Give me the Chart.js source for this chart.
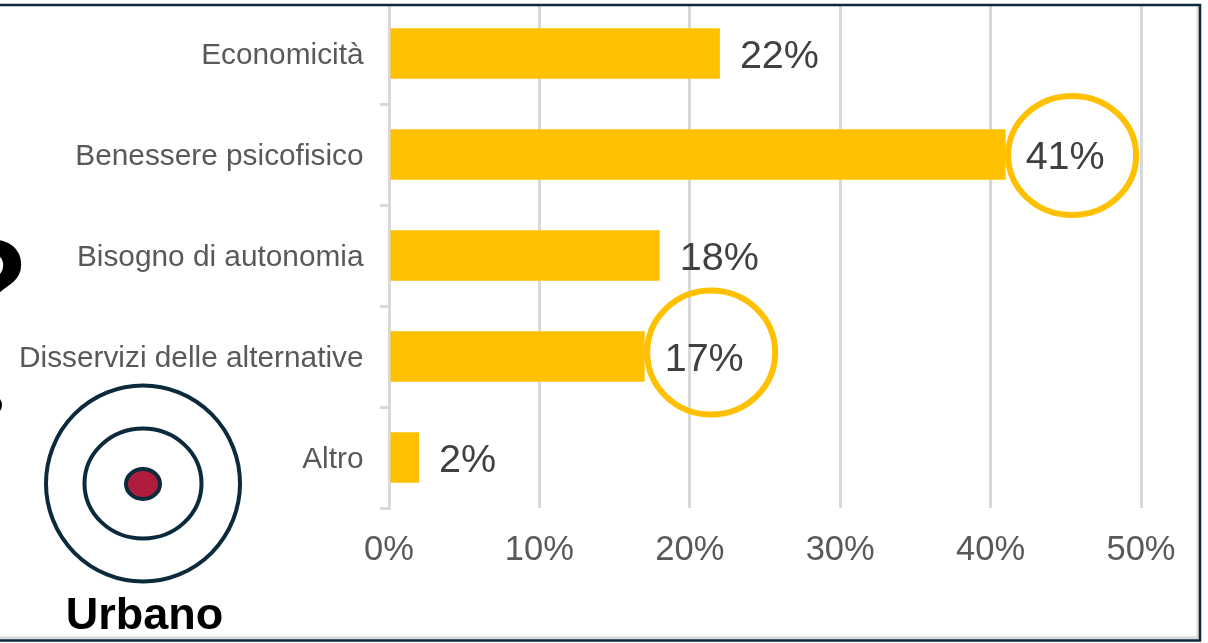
<!DOCTYPE html>
<html>
<head>
<meta charset="utf-8">
<style>
  html, body { margin: 0; padding: 0; background: #fff; }
  canvas { display: block; }
</style>
<script src="https://cdn.jsdelivr.net/npm/chart.js@4"></script>
</head>
<body>
<canvas id="myChart" width="1208" height="643"></canvas>
<script>
const categories = ["Economicità", "Benessere psicofisico", "Bisogno di autonomia", "Disservizi delle alternative", "Altro"];
const values = [22, 41, 18, 17, 2];
const circled = ["Benessere psicofisico", "Disservizi delle alternative"];
const xTicks = [0, 10, 20, 30, 40, 50];
const iconLabel = "Urbano";

const font = "'Liberation Sans', Arial, sans-serif";
const dark = "#0b2a3c";
// the two rings are not quite the same in the picture
const ringStyles = {
  "Benessere psicofisico": { ry: 59.5, shift: 1 },
  "Disservizi delle alternative": { ry: 62, shift: -4 },
};

// labels at the end of the bars and rings around the two highlighted ones
const barLabels = {
  id: "barLabels",
  afterDatasetsDraw(chart) {
    const { ctx, scales: { x, y } } = chart;
    ctx.save();
    categories.forEach((cat, i) => {
      const end = x.getPixelForValue(values[i]);
      const mid = y.getPixelForValue(i);
      ctx.fillStyle = "#404040";
      ctx.font = `39.5px ${font}`;
      ctx.textAlign = "left";
      ctx.textBaseline = "middle";
      ctx.fillText(values[i] + "%", end + 20, mid + 3.5);
      if (circled.includes(cat)) {
        const ring = ringStyles[cat];
        ctx.strokeStyle = "#ffc000";
        ctx.lineWidth = 6;
        ctx.beginPath();
        ctx.ellipse(end + 66.5, mid + ring.shift, 64, ring.ry, 0, 0, Math.PI * 2);
        ctx.stroke();
      }
    });
    ctx.restore();
  },
};

// the frame, the target icon and the cut off question mark around the chart
const decorations = {
  id: "decorations",
  afterDraw(chart) {
    const { ctx } = chart;
    ctx.save();
    ctx.fillStyle = "#fff";
    ctx.fillRect(0, 0, 1208, 4);

    ctx.strokeStyle = "#d9d9d9";
    ctx.lineWidth = 3;
    ctx.beginPath();
    ctx.moveTo(0, 638);
    ctx.lineTo(1198, 638);
    ctx.lineTo(1198, 6);
    ctx.stroke();
    ctx.strokeStyle = dark;
    ctx.lineWidth = 2.5;
    ctx.strokeRect(-5, 5, 1205, 635.5);

    ctx.fillStyle = "#000";
    ctx.font = `bold 130px ${font}`;
    ctx.textAlign = "center";
    ctx.textBaseline = "alphabetic";
    ctx.fillText("?", -11, 330);
    ctx.beginPath();
    ctx.ellipse(-8, 405, 10, 10, 0, 0, Math.PI * 2);
    ctx.fill();

    ctx.strokeStyle = dark;
    ctx.lineWidth = 4;
    [[97, 98], [58.5, 55]].forEach(([rx, ry]) => {
      ctx.beginPath();
      ctx.ellipse(143, 483.5, rx, ry, 0, 0, Math.PI * 2);
      ctx.stroke();
    });
    ctx.beginPath();
    ctx.ellipse(143, 484, 17, 15, 0, 0, Math.PI * 2);
    ctx.fillStyle = "#b01c3c";
    ctx.fill();
    ctx.stroke();

    ctx.fillStyle = "#000";
    ctx.font = `bold 45px ${font}`;
    ctx.textAlign = "center";
    ctx.fillText(iconLabel, 144.5, 629);
    ctx.restore();
  },
};

const canvas = document.getElementById("myChart");
new Chart(canvas, {
  type: "bar",
  data: {
    labels: categories,
    datasets: [{
      data: values,
      backgroundColor: "#ffc000",
      barPercentage: 0.5,
      categoryPercentage: 1,
    }],
  },
  options: {
    indexAxis: "y",
    responsive: false,
    animation: false,
    layout: { padding: { top: 3, right: 67, left: 0, bottom: 0 } },
    plugins: { legend: { display: false }, tooltip: { enabled: false } },
    scales: {
      x: {
        min: 0,
        max: 50,
        afterFit(scale) { scale.height = 135; },
        afterBuildTicks(scale) { scale.ticks = xTicks.map((value) => ({ value })); },
        border: { display: false },
        grid: { color: "#d9d9d9", lineWidth: 3, drawTicks: false },
        ticks: {
          color: "#595959",
          font: { family: font, size: 34.5 },
          padding: 22,
          maxRotation: 0,
          callback: (v) => v + "%",
        },
      },
      y: {
        afterFit(scale) {
          scale.width = 389;
          scale.paddingTop = 0;
          scale.paddingBottom = 0;
        },
        border: { color: "#d9d9d9", width: 3 },
        grid: { drawOnChartArea: false, color: "#d9d9d9", lineWidth: 3, tickLength: 9 },
        ticks: {
          color: "#595959",
          font: { family: font, size: 29.8 },
          padding: 16.5,
          labelOffset: 2,
        },
      },
    },
  },
  plugins: [barLabels, decorations],
});
</script>
</body>
</html>
